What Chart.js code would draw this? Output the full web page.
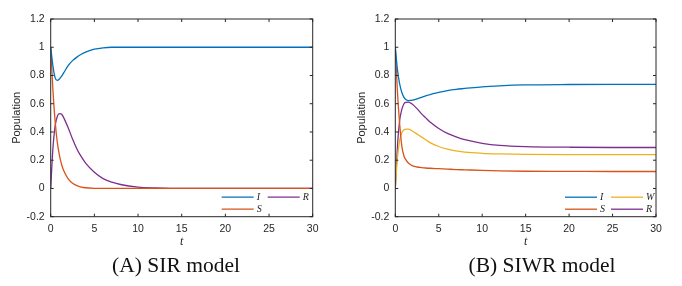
<!DOCTYPE html>
<html>
<head>
<meta charset="utf-8">
<script src="https://cdn.jsdelivr.net/npm/chart.js@4.4.0/dist/chart.umd.min.js"></script>
<style>
  body { margin: 0; background: #fff; width: 682px; height: 286px; position: relative; overflow: hidden; }
  .panel { position: absolute; top: 0; width: 341px; height: 286px; }
  .cap { position: absolute; top: 253px; font-family: "Liberation Serif", serif; font-size: 21.5px; color: #111;
         white-space: nowrap; transform: translateX(-50%); line-height: 24px; }
</style>
</head>
<body>
<div class="panel" style="left:0"><canvas id="sirChart" width="341" height="286"></canvas></div>
<div class="panel" style="left:341px"><canvas id="siwrChart" width="341" height="286"></canvas></div>
<div class="cap" style="left:176px">(A) SIR model</div>
<div class="cap" style="left:542px">(B) SIWR model</div>
<script>
// time samples (shared by both panels)
var tValues = [0, 0.25, 0.5, 0.75, 1, 1.25, 1.5, 2, 2.5, 3, 3.5, 4, 5, 6, 7, 8, 10, 12, 15, 20, 25, 30];

// (A) SIR model
var sirI = [1, 0.87, 0.785, 0.765, 0.775, 0.795, 0.82, 0.87, 0.905, 0.93, 0.95, 0.965, 0.986, 0.996, 1, 1, 1, 1, 1, 1, 1, 1];
var sirS = [1, 0.7, 0.48, 0.33, 0.235, 0.17, 0.125, 0.068, 0.037, 0.02, 0.01, 0.005, 0.001, 0, 0, 0, 0, 0, 0, 0, 0, 0];
var sirR = [0, 0.28, 0.44, 0.51, 0.53, 0.525, 0.5, 0.43, 0.35, 0.28, 0.225, 0.18, 0.115, 0.07, 0.045, 0.028, 0.01, 0.004, 0, 0, 0, 0];

// (B) SIWR model
var siwrI = [1, 0.84, 0.74, 0.68, 0.645, 0.628, 0.622, 0.625, 0.635, 0.645, 0.655, 0.665, 0.68, 0.693, 0.702, 0.708, 0.72, 0.727, 0.733, 0.736, 0.737, 0.737];
var siwrS = [1, 0.68, 0.46, 0.3, 0.23, 0.2, 0.18, 0.16, 0.152, 0.148, 0.145, 0.143, 0.14, 0.137, 0.134, 0.132, 0.128, 0.125, 0.122, 0.121, 0.12, 0.12];
var siwrW = [0, 0.22, 0.34, 0.395, 0.415, 0.42, 0.42, 0.405, 0.385, 0.365, 0.345, 0.325, 0.297, 0.278, 0.266, 0.257, 0.249, 0.245, 0.242, 0.24, 0.24, 0.24];
var siwrR = [0, 0.3, 0.48, 0.56, 0.6, 0.61, 0.612, 0.595, 0.565, 0.53, 0.5, 0.47, 0.425, 0.39, 0.365, 0.345, 0.32, 0.305, 0.296, 0.292, 0.29, 0.29];

// axis ticks
var xTicks = [0, 5, 10, 15, 20, 25, 30];
var yTicks = [-0.2, 0, 0.2, 0.4, 0.6, 0.8, 1, 1.2];
var yTickLabels = ['-0.2', '0', '0.2', '0.4', '0.6', '0.8', '1', '1.2'];

var COLORS = { I: '#0072BD', S: '#D95319', W: '#EDB120', R: '#7E2F8E' };
var AXIS = '#262626';

function toPoints(ys) {
  return ys.map(function (y, i) { return { x: tValues[i], y: y }; });
}

function series(label, ys) {
  return {
    label: label,
    data: toPoints(ys),
    borderColor: COLORS[label],
    backgroundColor: COLORS[label],
    borderWidth: 1.3,
    pointRadius: 0,
    cubicInterpolationMode: 'monotone',
    fill: false
  };
}

// box, inward ticks and MATLAB-like legend inside the axes
var framePlugin = {
  id: 'frame',
  afterDraw: function (chart) {
    var a = chart.chartArea, ctx = chart.ctx;
    var xs = chart.scales.x, ys = chart.scales.y;
    ctx.save();
    ctx.strokeStyle = AXIS;
    ctx.lineWidth = 1;
    ctx.strokeRect(a.left, a.top, a.right - a.left, a.bottom - a.top);
    ctx.beginPath();
    xTicks.forEach(function (v) {
      var px = xs.getPixelForValue(v);
      ctx.moveTo(px, a.bottom); ctx.lineTo(px, a.bottom - 3);
      ctx.moveTo(px, a.top); ctx.lineTo(px, a.top + 3);
    });
    yTicks.forEach(function (v) {
      var py = ys.getPixelForValue(v);
      ctx.moveTo(a.left, py); ctx.lineTo(a.left + 3, py);
      ctx.moveTo(a.right, py); ctx.lineTo(a.right - 3, py);
    });
    ctx.stroke();

    // legend: 2 rows, column-major
    ctx.font = 'italic 10px "Liberation Serif", serif';
    ctx.textBaseline = 'middle';
    ctx.textAlign = 'left';
    chart.data.datasets.forEach(function (ds, k) {
      var col = Math.floor(k / 2), row = k % 2;
      var x0 = a.right - 91 + col * 46;
      var y = a.bottom - 19.5 + row * 12;
      ctx.strokeStyle = ds.borderColor;
      ctx.lineWidth = 1.3;
      ctx.beginPath();
      ctx.moveTo(x0, y); ctx.lineTo(x0 + 32, y);
      ctx.stroke();
      ctx.fillStyle = AXIS;
      ctx.fillText(ds.label, x0 + 35, y);
    });
    ctx.restore();
  }
};

function makeChart(id, datasets, yAxisWidth, padRight, yTitlePad) {
  var canvas = document.getElementById(id);
  return new Chart(canvas.getContext('2d'), {
    type: 'line',
    data: { datasets: datasets },
    plugins: [framePlugin],
    options: {
      responsive: false,
      animation: false,
      devicePixelRatio: 1,
      layout: { padding: { top: 19, right: padRight, left: 0, bottom: 0 } },
      plugins: { legend: { display: false }, tooltip: { enabled: false } },
      scales: {
        x: {
          type: 'linear', min: 0, max: 30,
          grid: { display: false, drawTicks: false },
          border: { display: false },
          afterBuildTicks: function (s) { s.ticks = xTicks.map(function (v) { return { value: v }; }); },
          afterFit: function (s) { s.height = 286 - 216.7; },
          ticks: { color: AXIS, padding: 6, maxRotation: 0, font: { family: '"Liberation Sans", Arial, sans-serif', size: 10.5 } },
          title: { display: true, text: 't', color: AXIS, padding: { top: 0, bottom: 37 },
                   font: { family: '"Liberation Serif", serif', size: 12, style: 'italic' } }
        },
        y: {
          type: 'linear', min: -0.2, max: 1.2,
          grid: { display: false, drawTicks: false },
          border: { display: false },
          afterBuildTicks: function (s) { s.ticks = yTicks.map(function (v) { return { value: v }; }); },
          afterFit: function (s) { s.width = yAxisWidth; },
          ticks: {
            color: AXIS, padding: 6, font: { family: '"Liberation Sans", Arial, sans-serif', size: 10.5 },
            callback: function (v, i) { return yTickLabels[i]; }
          },
          title: { display: true, text: 'Population', color: AXIS, padding: { top: yTitlePad, bottom: 0 },
                   font: { family: '"Liberation Sans", Arial, sans-serif', size: 11 } }
        }
      }
    }
  });
}

makeChart('sirChart', [series('I', sirI), series('S', sirS), series('R', sirR)], 50.7, 28.3, 10.7);
makeChart('siwrChart', [series('I', siwrI), series('S', siwrS), series('W', siwrW), series('R', siwrR)], 54.3, 26, 14.1);
</script>
</body>
</html>
